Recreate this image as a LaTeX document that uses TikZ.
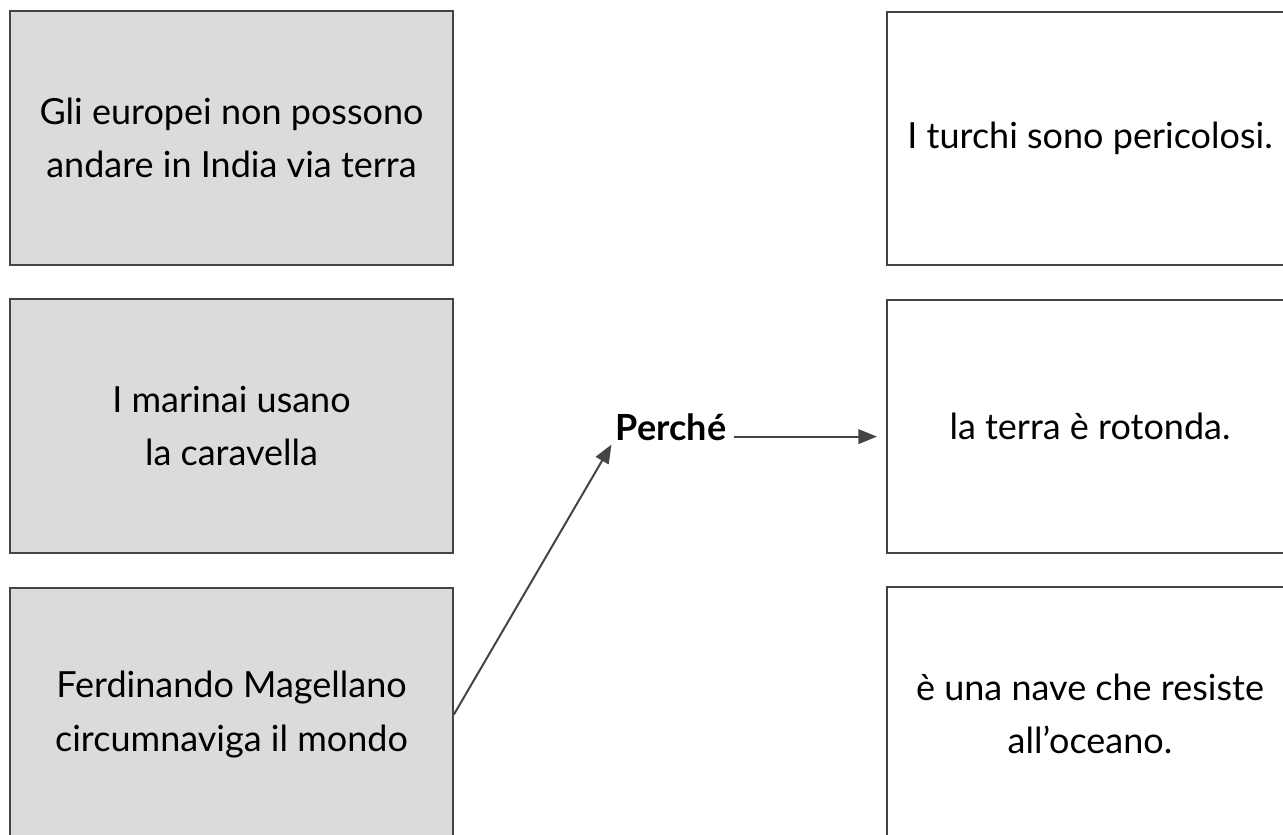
\documentclass[tikz,border=0pt]{standalone}
\usepackage{fontspec}
\setmainfont{Lato}
\usetikzlibrary{arrows.meta}
\definecolor{boxgray}{HTML}{DBDBDB}
\definecolor{linegray}{HTML}{444444}
\tikzset{
causa/.style={draw=linegray,line width=1.6pt,fill=boxgray,minimum width=332pt,minimum height=190pt,align=center,font=\fontsize{27}{40}\selectfont},
effetto/.style={causa,fill=white,minimum width=304pt},
freccia/.style={draw=linegray,line width=1.5pt,-{Triangle[length=14pt,width=11pt]}}
}
\begin{document}
\begin{tikzpicture}[x=0.75pt,y=-0.75pt]
\useasboundingbox (0,0) rectangle (1283,835);
\clip (0,0) rectangle (1283,835);
\path
(231.5,138) node[causa](europei){Gli europei non possono\\andare in India via terra}
(231.5,426) node[causa](marinai){I marinai usano\\la caravella}
(231.5,714.5) node[causa](magellano){Ferdinando Magellano\\circumnaviga il mondo}
(1090,138.5) node[effetto](turchi){I turchi sono pericolosi.}
(1090,426.5) node[effetto](terra){la terra è rotonda.}
(1090,714) node[effetto](nave){è una nave che resiste\\all’oceano.};
\node[anchor=base,inner sep=3pt,font=\fontsize{27}{30}\selectfont\bfseries](perche) at (671,440){Perché};
\path[freccia] (magellano.east)--(perche.south west);
\path[freccia,shorten <=3pt,shorten >=7pt] (perche.mid east)--(perche.mid east -| terra.west);
\end{tikzpicture}
\end{document}
